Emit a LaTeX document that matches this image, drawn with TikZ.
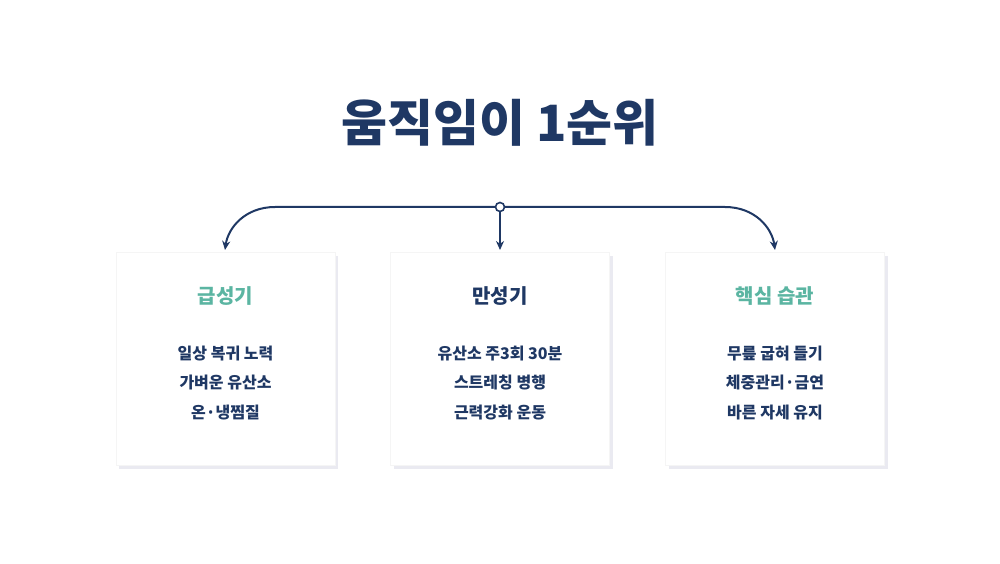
\documentclass[tikz,border=0pt]{standalone}
\usepackage{fontspec}
\setmainfont{Noto Sans CJK KR}
\usetikzlibrary{arrows.meta,positioning,shadows}
\definecolor{navy}{HTML}{1F3864}
\definecolor{teal}{HTML}{5BB5A2}
\begin{document}
\begin{tikzpicture}[
    x=1pt, y=1pt,
    box/.style={rectangle, fill=white, draw=gray!8, minimum width=219pt, minimum height=213pt,
        drop shadow={shadow xshift=3pt, shadow yshift=-4pt, fill=blue!20!gray!45, opacity=0.3}},
    head/.style={font=\fontsize{20}{22}\selectfont\bfseries},
    item/.style={font=\fontsize{16}{29.5}\selectfont\bfseries, text=navy, align=center},
    arrow/.style={-{Stealth[length=9pt,width=8pt]}, draw=navy, line width=2pt}
]
    \useasboundingbox (0,0) rectangle (1000,563);
    \node[font=\fontsize{50}{52}\selectfont\bfseries, text=navy] (title) at (500,440) {움직임이 1순위};

    \node[box] (acute) at (225.5,204.5) {};
    \node[box] (chronic) at (500,204.5) {};
    \node[box] (habit) at (775,204.5) {};

    \node[head, text=teal] (acuteh) at (225.5,267) {급성기};
    \node[head, text=navy] (chronich) at (500,267) {만성기};
    \node[head, text=teal] (habith) at (775,267) {핵심 습관};

    \node[item] (acutet) at (225.5,180) {일상 복귀 노력\\가벼운 유산소\\온·냉찜질};
    \node[item] (chronict) at (500,180) {유산소 주3회 30분\\스트레칭 병행\\근력강화 운동};
    \node[item] (habitt) at (775,180) {무릎 굽혀 들기\\체중관리·금연\\바른 자세 유지};

    \coordinate (hub) at (500,356);
    \coordinate (la) at (225,313);
    \coordinate (ma) at (500,313);
    \coordinate (ra) at (775,313);

    \draw[arrow] (hub) -- (275,356) .. controls (245,356) and (228,335) .. (la);
    \draw[arrow] (hub) -- (725,356) .. controls (755,356) and (772,335) .. (ra);
    \draw[arrow] (hub) -- (ma);
    \node[circle, draw=navy, fill=white, line width=1.6pt, inner sep=0pt, minimum size=9pt] (dot) at (hub) {};
\end{tikzpicture}
\end{document}
